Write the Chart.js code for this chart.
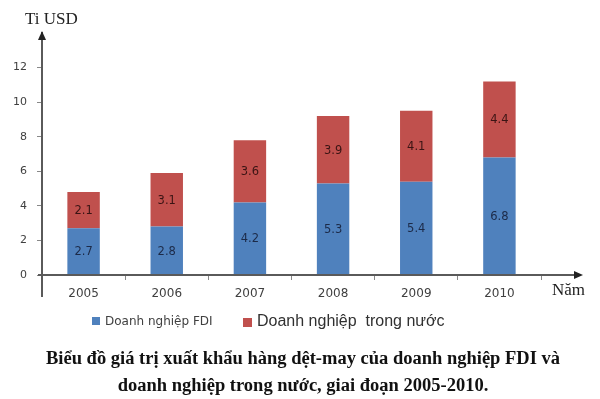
<!DOCTYPE html>
<html>
<head>
<meta charset="utf-8">
<script src="https://cdn.jsdelivr.net/npm/chart.js@4"></script>
<style>
  html, body { margin: 0; padding: 0; background: #fff; }
  #wrap { position: relative; width: 600px; height: 399px; overflow: hidden; }
  #chart { position: absolute; left: 0; top: 0; }
  .txt { position: absolute; white-space: nowrap; color: #222; }
  .serif { font-family: "Liberation Serif", "DejaVu Serif", serif; }
  .sq { position: absolute; }
</style>
</head>
<body>
<div id="wrap">
  <canvas id="chart" width="600" height="399"></canvas>
  <div class="txt serif" style="left:25px; top:10px; font-size:17px; line-height:18px;">Ti USD</div>
  <div class="txt serif" style="left:552px; top:280px; font-size:17px; line-height:19px;">Năm</div>
  <div class="sq" style="left:92px; top:317px; width:8px; height:8px; background:#4F81BD;"></div>
  <div class="txt" style="left:105px; top:314px; font-family:'DejaVu Sans'; font-size:12px; line-height:14px; color:#404040;">Doanh nghiệp FDI</div>
  <div class="sq" style="left:243px; top:318px; width:9px; height:9px; background:#C0504D;"></div>
  <div class="txt" style="left:257px; top:311px; font-family:'Liberation Sans'; font-size:16px; line-height:19px; color:#303030;">Doanh nghiệp&nbsp; trong nước</div>
  <div class="txt serif" style="left:0; width:606px; text-align:center; top:345px; font-size:18.5px; line-height:27px; font-weight:bold; color:#111;">Biểu đồ giá trị xuất khẩu hàng dệt-may của doanh nghiệp FDI và<br>doanh nghiệp trong nước, giai đoạn 2005-2010.</div>
</div>
<script>
var years = ['2005', '2006', '2007', '2008', '2009', '2010'];
var fdi = [2.7, 2.8, 4.2, 5.3, 5.4, 6.8];
var domestic = [2.1, 3.1, 3.6, 3.9, 4.1, 4.4];
var yTicks = [0, 2, 4, 6, 8, 10, 12];

var BLUE = '#4F81BD', RED = '#C0504D', AXIS = '#5a5a5a';

// values written in the middle of each segment
var segLabels = {
  id: 'segLabels',
  afterDatasetsDraw: function (chart) {
    var ctx = chart.ctx;
    ctx.save();
    ctx.font = '11.5px "DejaVu Sans"';
    ctx.textAlign = 'center';
    ctx.textBaseline = 'middle';
    chart.data.datasets.forEach(function (ds, i) {
      ctx.fillStyle = i === 0 ? '#1c2a48' : '#3a1414';
      chart.getDatasetMeta(i).data.forEach(function (bar, j) {
        var p = bar.getCenterPoint();
        ctx.fillText(ds.data[j].toFixed(1), p.x, p.y + 1);
      });
    });
    ctx.restore();
  }
};

// arrow heads and the y axis running a bit below zero
var axisArrows = {
  id: 'axisArrows',
  afterDraw: function (chart) {
    var ctx = chart.ctx, a = chart.chartArea;
    var x0 = a.left, y0 = a.bottom;
    ctx.save();
    ctx.strokeStyle = AXIS;
    ctx.lineWidth = 2;
    ctx.beginPath();
    ctx.moveTo(x0, y0); ctx.lineTo(x0, y0 + 22);
    ctx.moveTo(x0 - 4, y0); ctx.lineTo(576, y0);
    ctx.stroke();
    ctx.fillStyle = '#222';
    ctx.beginPath();
    ctx.moveTo(x0, a.top - 2); ctx.lineTo(x0 - 4, a.top + 7); ctx.lineTo(x0 + 4, a.top + 7);
    ctx.closePath(); ctx.fill();
    ctx.beginPath();
    ctx.moveTo(583, y0); ctx.lineTo(574, y0 - 4); ctx.lineTo(574, y0 + 4);
    ctx.closePath(); ctx.fill();
    ctx.restore();
  }
};

new Chart(document.getElementById('chart').getContext('2d'), {
  type: 'bar',
  data: {
    labels: years,
    datasets: [
      { label: 'Doanh nghiệp FDI', data: fdi, backgroundColor: BLUE },
      { label: 'Doanh nghiệp trong nước', data: domestic, backgroundColor: RED }
    ]
  },
  options: {
    responsive: false,
    animation: false,
    layout: { padding: { top: 33, left: 0, right: 59, bottom: 0 } },
    datasets: { bar: { barPercentage: 1, categoryPercentage: 0.39 } },
    plugins: { legend: { display: false }, tooltip: { enabled: false } },
    scales: {
      x: {
        stacked: true,
        afterFit: function (s) { s.height = 124; },
        grid: { drawOnChartArea: false, tickLength: 5, tickColor: '#888', offset: true },
        border: { color: AXIS, width: 2 },
        ticks: { color: '#404040', font: { family: 'DejaVu Sans', size: 12 }, padding: 7 }
      },
      y: {
        stacked: true,
        min: 0, max: 14,
        afterFit: function (s) { s.width = 42; },
        afterBuildTicks: function (s) { s.ticks = yTicks.concat([14]).map(function (v) { return { value: v }; }); },
        grid: {
          drawOnChartArea: false, tickLength: 5,
          tickColor: function (c) { return c.tick && c.tick.value === 14 ? 'rgba(0,0,0,0)' : '#888'; }
        },
        border: { color: AXIS, width: 2 },
        ticks: {
          color: '#404040', font: { family: 'DejaVu Sans', size: 11 }, padding: 10,
          callback: function (v) { return yTicks.indexOf(v) >= 0 ? v : ''; }
        }
      }
    }
  },
  plugins: [segLabels, axisArrows]
});
</script>
</body>
</html>
